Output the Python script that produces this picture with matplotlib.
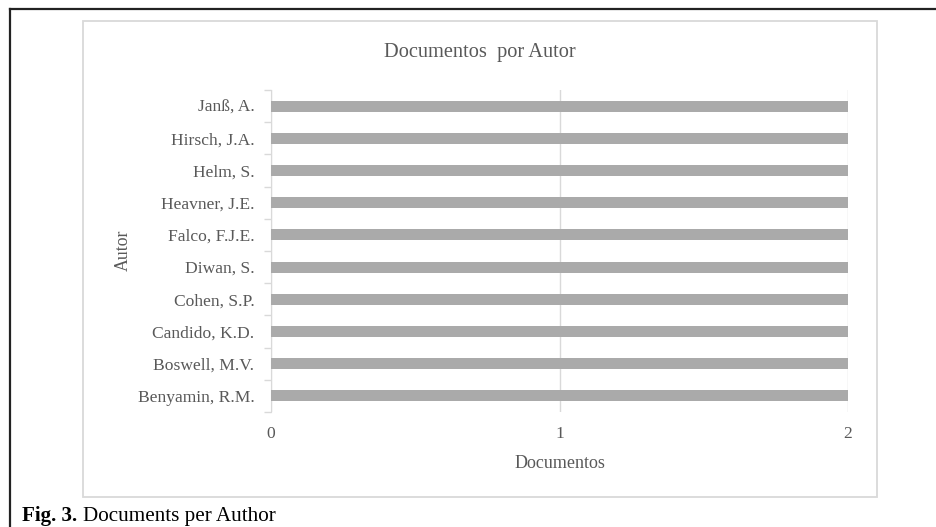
import matplotlib
matplotlib.use("Agg")
from matplotlib import pyplot as plt
from matplotlib.patches import Rectangle
from matplotlib.lines import Line2D
import numpy as np

# Authors, bottom to top as drawn
authors = ["Benyamin, R.M.", "Boswell, M.V.", "Candido, K.D.", "Cohen, S.P.",
           "Diwan, S.", "Falco, F.J.E.", "Heavner, J.E.", "Helm, S.",
           "Hirsch, J.A.", "Janß, A."]
documents = [2, 2, 2, 2, 2, 2, 2, 2, 2, 2]
x_ticks = [0, 1, 2]

W, H = 937, 527
text_col = "#595959"
grid_col = "#d9d9d9"
bar_col = "#aaaaaa"

plt.rcParams["font.family"] = ["Liberation Serif", "DejaVu Serif"]

fig = plt.figure(figsize=(W / 100, H / 100), dpi=100)

# page frame lines (top and left) and the chart box
fig.add_artist(Line2D([10 / W, 10 / W], [0, 1 - 9 / H], transform=fig.transFigure,
                      color="#222222", lw=1.6))
fig.add_artist(Line2D([10 / W, 1], [1 - 9 / H, 1 - 9 / H], transform=fig.transFigure,
                      color="#222222", lw=1.6))
fig.add_artist(Rectangle((83 / W, 1 - 497 / H), (877 - 83) / W, (497 - 21) / H,
                         transform=fig.transFigure, fill=False,
                         edgecolor=grid_col, lw=1.3))

ax = fig.add_axes([271 / W, 1 - 412 / H, (848 - 271) / W, (412 - 90) / H])
y = np.arange(len(authors))
ax.barh(y, documents, height=0.34, color=bar_col, zorder=3)

ax.set_xlim(0, 2)
ax.set_ylim(-0.5, len(authors) - 0.5)
ax.set_xticks(x_ticks)
ax.set_yticks(y)
ax.set_yticklabels(authors)
ax.set_yticks(np.arange(-0.5, len(authors), 1), minor=True)

ax.tick_params(axis="y", which="major", length=0, pad=12, labelsize=12.6,
               labelcolor=text_col)
ax.tick_params(axis="y", which="minor", length=5, color=grid_col, width=1)
ax.tick_params(axis="x", length=0, pad=10, labelsize=12.6, labelcolor=text_col)

ax.grid(axis="x", color=grid_col, lw=1, zorder=0)
for side in ["top", "right", "bottom"]:
    ax.spines[side].set_visible(False)
ax.spines["left"].set_color(grid_col)

ax.set_xlabel("Documentos", fontsize=13, color=text_col)
ax.xaxis.label.set_va("center")
ax.xaxis.set_label_coords(0.5, (412 - 463) / 322)

# vertical axis title
fig.text(123 / W, 1 - 250 / H, "Autor", fontsize=12.8, color=text_col,
         rotation=90, ha="center", va="center")

fig.text(480 / W, 1 - 53 / H, "Documentos  por Autor", fontsize=14.7,
         color=text_col, ha="center", va="center")

# caption: bold figure number followed by plain text
cap = fig.text(22 / W, 1 - 516 / H, "Fig. 3.", fontsize=15.2, fontweight="bold",
               ha="left", va="center")
fig.canvas.draw()
bb = cap.get_window_extent()
fig.text((bb.x1 + 6) / W, 1 - 516 / H, "Documents per Author", fontsize=15.2,
         ha="left", va="center")

fig.savefig("out.png", dpi=100)
